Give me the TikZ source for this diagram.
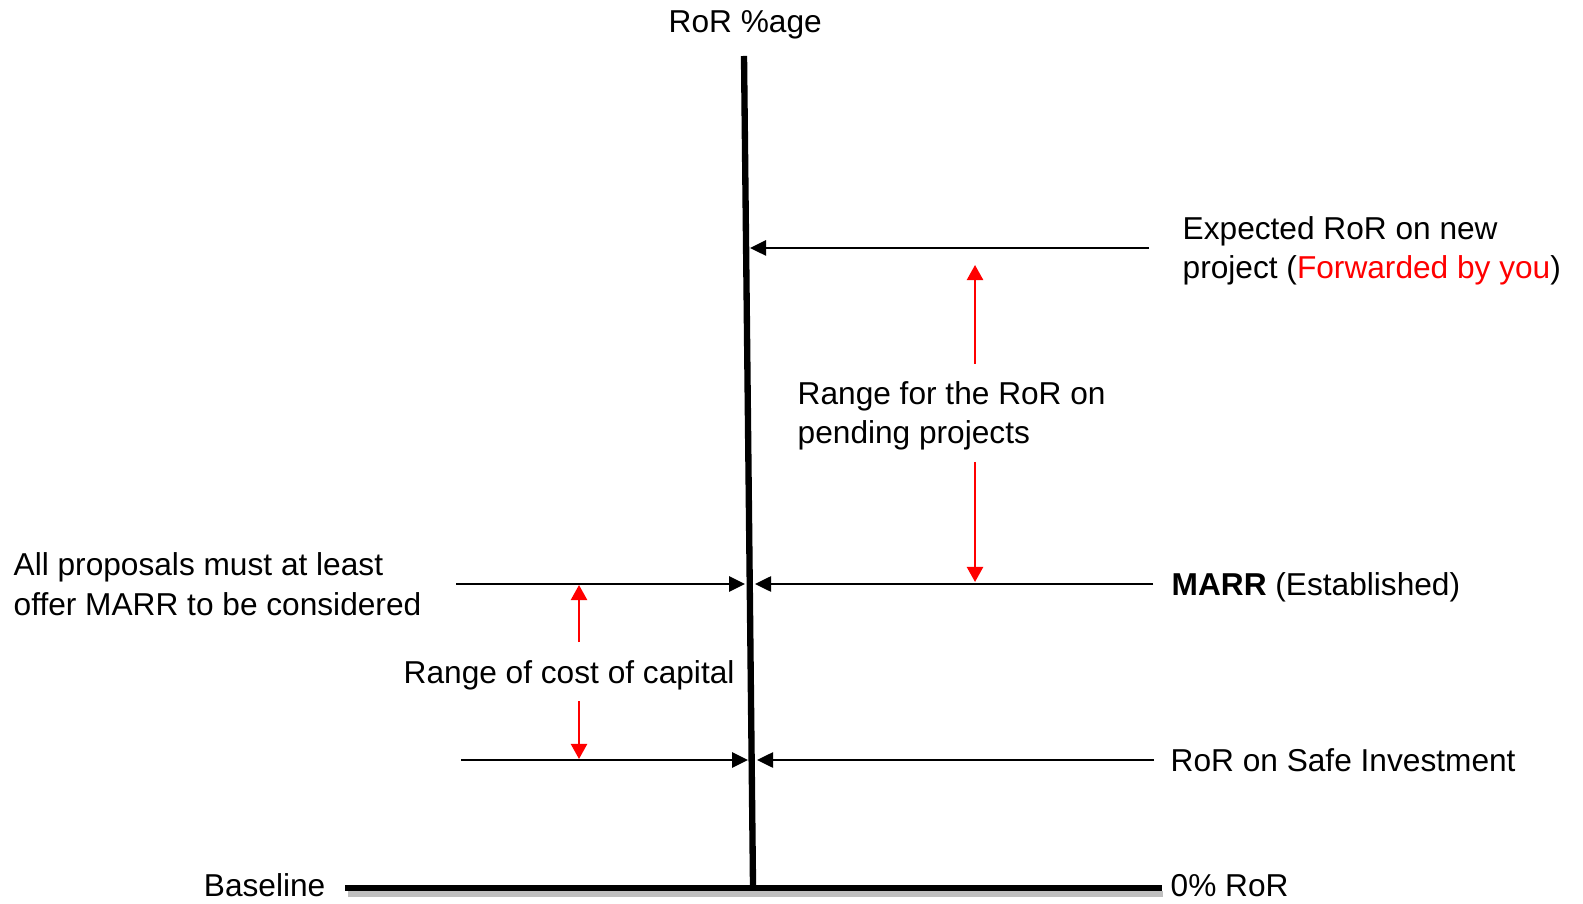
\documentclass[tikz,border=0pt]{standalone}
\usepackage{fontspec}
\setmainfont{Liberation Sans}
\usepackage{xcolor}
\colorlet{colorRange}{red}
\colorlet{colorShadow}{black!25}
\usepackage{tikz}
\usetikzlibrary{arrows.meta, positioning}
\tikzset{label text/.style={font=\fontsize{9}{11.34}\selectfont, inner sep=0pt, align=left, anchor=base west}}

\begin{document}
\begin{tikzpicture}[x=0.01cm, y=-0.01cm, >={Triangle[length=0.16cm,width=0.15cm]}, level arrow/.style={->, line width=0.75pt}, range arrow/.style={->, colorRange, line width=0.65pt, >={Triangle[length=0.15cm,width=0.16cm]}}]
\useasboundingbox (0,0) rectangle (1583,904);
% labels (multi-line ones sit on their last line)
\node[label text] (axislbl) at (668,33) {RoR \%age};
\node[label text] (newproj) at (1182,279) {Expected RoR on new\\project (\textcolor{colorRange}{Forwarded by you})};
\node[label text] (pending) at (797,444) {Range for the RoR on\\pending projects};
\node[label text] (marr) at (1171,596) {\textbf{MARR} (Established)};
\node[label text] (proposals) at (13,615) {All proposals must at least\\offer MARR to be considered};
\node[label text] (costcap) at (403,683) {Range of cost of capital};
\node[label text] (safe) at (1170,771) {RoR on Safe Investment};
\node[label text, anchor=base east] (baselbl) at (326,896) {Baseline};
\node[label text] (zeroror) at (1170,896) {0\% RoR};
% axis and baseline
\coordinate (axtop) at (744,56);
\coordinate (axbot) at (753,886);
\coordinate (blL) at (345,888);
\coordinate (blR) at (1162,888);
\draw[colorShadow, line width=1.8pt] ([shift={(3,6)}]blL) -- ([shift={(1,6)}]blR);
\draw[black, line width=1.7pt] (blL) -- (blR);
% levels
\coordinate (newS) at (1149,248); \coordinate (newE) at (750,248);
\coordinate (marrLS) at (456,584); \coordinate (marrLE) at (745,584);
\coordinate (marrRS) at (1153,584); \coordinate (marrRE) at (755,584);
\coordinate (safeLS) at (461,760); \coordinate (safeLE) at (748,760);
\coordinate (safeRS) at (1154,760); \coordinate (safeRE) at (757,760);
\draw[level arrow] (newS) -- (newE);
\draw[level arrow] (marrLS) -- (marrLE);
\draw[level arrow] (marrRS) -- (marrRE);
\draw[level arrow] (safeLS) -- (safeLE);
\draw[level arrow] (safeRS) -- (safeRE);
\draw[black, line width=1.8pt] (axtop) -- (axbot);
% ranges
\coordinate (pendUpS) at (975,364); \coordinate (pendUpE) at (975,265);
\coordinate (pendDnS) at (975,462); \coordinate (pendDnE) at (975,582);
\coordinate (costUpS) at (579,642); \coordinate (costUpE) at (579,585);
\coordinate (costDnS) at (579,701); \coordinate (costDnE) at (579,759);
\draw[range arrow] (pendUpS) -- (pendUpE);
\draw[range arrow] (pendDnS) -- (pendDnE);
\draw[range arrow] (costUpS) -- (costUpE);
\draw[range arrow] (costDnS) -- (costDnE);
\end{tikzpicture}
\end{document}
